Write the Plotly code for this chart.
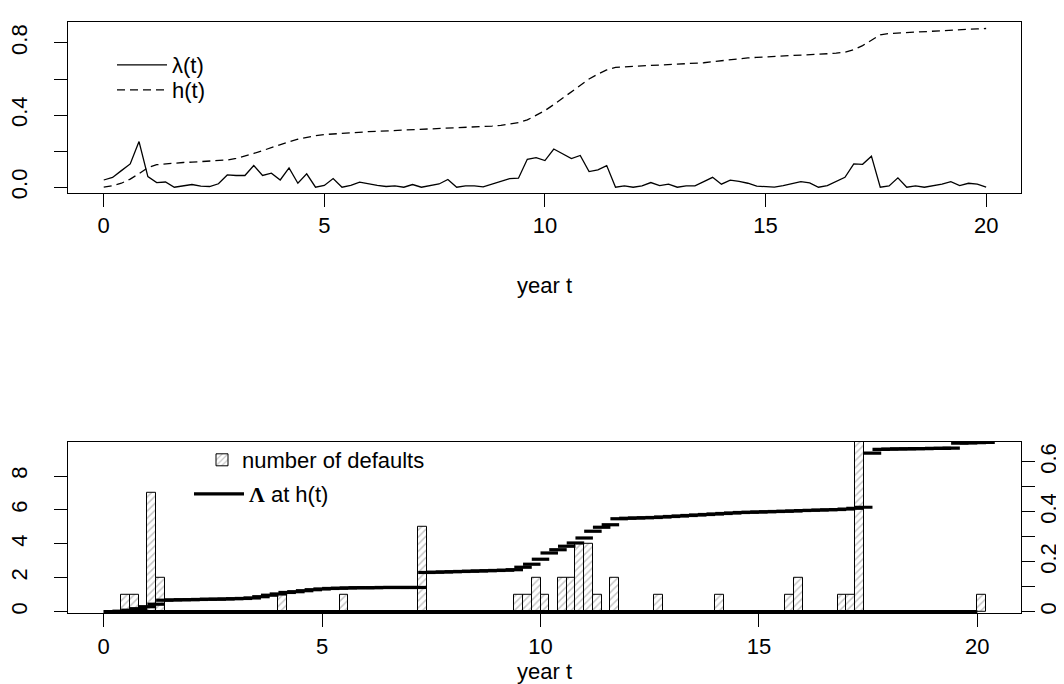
import plotly.graph_objects as go

# ---------------- data ----------------
t_grid = [round(0.2 * i, 1) for i in range(101)]  # years 0..20 step 0.2

lambda_t = [
    0.040, 0.054, 0.092, 0.129, 0.253, 0.059, 0.026, 0.029, 0.000, 0.008,
    0.015, 0.006, 0.004, 0.019, 0.068, 0.065, 0.065, 0.120, 0.065, 0.078,
    0.040, 0.107, 0.022, 0.074, 0.000, 0.010, 0.048, 0.000, 0.010, 0.028,
    0.017, 0.010, 0.004, 0.007, 0.000, 0.015, 0.000, 0.007, 0.018, 0.043,
    0.000, 0.007, 0.007, 0.002, 0.018, 0.033, 0.048, 0.050, 0.155, 0.164,
    0.148, 0.212, 0.185, 0.159, 0.176, 0.087, 0.096, 0.120, 0.000, 0.007,
    0.000, 0.007, 0.026, 0.009, 0.017, 0.000, 0.007, 0.007, 0.031, 0.055,
    0.017, 0.039, 0.033, 0.022, 0.006, 0.004, 0.000, 0.009, 0.020, 0.031,
    0.024, 0.000, 0.009, 0.031, 0.055, 0.129, 0.127, 0.172, 0.000, 0.007,
    0.052, 0.000, 0.007, 0.000, 0.007, 0.017, 0.031, 0.009, 0.022, 0.017,
    0.000,
]

h_t = [
    0.000, 0.008, 0.022, 0.045, 0.075, 0.108, 0.125, 0.130, 0.134, 0.137,
    0.139, 0.141, 0.143, 0.146, 0.151, 0.160, 0.172, 0.187, 0.203, 0.220,
    0.236, 0.252, 0.266, 0.278, 0.286, 0.292, 0.296, 0.299, 0.302, 0.305,
    0.308, 0.310, 0.312, 0.314, 0.316, 0.318, 0.320, 0.322, 0.324, 0.327,
    0.330, 0.332, 0.334, 0.336, 0.339, 0.343, 0.349, 0.358, 0.373, 0.397,
    0.425, 0.458, 0.494, 0.532, 0.568, 0.600, 0.627, 0.650, 0.664, 0.668,
    0.671, 0.673, 0.675, 0.677, 0.679, 0.681, 0.683, 0.686, 0.690, 0.696,
    0.702, 0.708, 0.713, 0.717, 0.720, 0.722, 0.724, 0.726, 0.728, 0.731,
    0.734, 0.737, 0.740, 0.743, 0.749, 0.762, 0.785, 0.815, 0.845, 0.852,
    0.855, 0.857, 0.859, 0.861, 0.863, 0.866, 0.869, 0.872, 0.875, 0.878,
    0.880,
]

# number of defaults per 0.2-year bin (bin start, count)
default_bin_start = [0.4, 0.6, 1.0, 1.2, 4.0, 5.4, 7.2, 9.4, 9.6, 9.8, 10.0,
                     10.4, 10.6, 10.8, 11.0, 11.2, 11.6, 12.6, 14.0, 15.6,
                     15.8, 16.8, 17.0, 17.2, 20.0]
default_counts = [1, 1, 7, 2, 1, 1, 5, 1, 1, 2, 1,
                  2, 2, 4, 4, 1, 2, 1, 1, 1,
                  2, 1, 1, 10, 1]
bin_width = 0.2

# Lambda evaluated at h(t), one level per grid time
Lambda_h = [
    0.000, 0.002, 0.006, 0.012, 0.020, 0.030, 0.046, 0.047, 0.048, 0.048,
    0.049, 0.050, 0.050, 0.051, 0.052, 0.053, 0.055, 0.060, 0.066, 0.071,
    0.077, 0.080, 0.084, 0.088, 0.091, 0.093, 0.094, 0.095, 0.096, 0.096,
    0.096, 0.097, 0.097, 0.097, 0.097, 0.097, 0.157, 0.158, 0.159, 0.160,
    0.161, 0.162, 0.163, 0.164, 0.165, 0.166, 0.168, 0.178, 0.190, 0.210,
    0.235, 0.248, 0.262, 0.275, 0.295, 0.322, 0.338, 0.348, 0.372, 0.374,
    0.375, 0.376, 0.377, 0.379, 0.381, 0.383, 0.385, 0.387, 0.389, 0.391,
    0.393, 0.395, 0.397, 0.398, 0.399, 0.400, 0.401, 0.402, 0.403, 0.405,
    0.406, 0.407, 0.408, 0.409, 0.411, 0.414, 0.418, 0.635, 0.650, 0.651,
    0.652, 0.652, 0.653, 0.653, 0.654, 0.654, 0.655, 0.675, 0.676, 0.677,
    0.678,
]
segment_span = 0.4  # each Lambda level is drawn over two bins

x_ticks = [0, 5, 10, 15, 20]
top_y_ticks = [0.0, 0.2, 0.4, 0.6, 0.8]
top_y_labels = ["0.0", "", "0.4", "", "0.8"]
left_y_ticks = [0, 2, 4, 6, 8]
right_y_ticks = [0.0, 0.1, 0.2, 0.3, 0.4, 0.5, 0.6]
right_y_labels = ["0", "", "0.2", "", "0.4", "", "0.6"]

# ---------------- figure ----------------
FONT = "Liberation Sans, Arial, sans-serif"
FS = 22
LW = 1.3

fig = go.Figure()

# top panel
fig.add_trace(go.Scatter(x=t_grid, y=lambda_t, mode="lines", name="λ(t)",
                         line=dict(color="black", width=LW),
                         xaxis="x", yaxis="y", legend="legend"))
fig.add_trace(go.Scatter(x=t_grid, y=h_t, mode="lines", name="h(t)",
                         line=dict(color="black", width=LW, dash="8px,5px"),
                         xaxis="x", yaxis="y", legend="legend2"))

# bottom panel: bars
bar_centers = [s + bin_width / 2 for s in default_bin_start]
fig.add_trace(go.Bar(x=bar_centers, y=default_counts, width=bin_width,
                     name="number of defaults",
                     marker=dict(color="white",
                                 line=dict(color="black", width=1),
                                 pattern=dict(shape="/", fgcolor="#8c8c8c",
                                              bgcolor="white", size=5,
                                              solidity=0.3)),
                     xaxis="x2", yaxis="y2", legend="legend3"))

# Lambda segments
seg_x, seg_y = [], []
for t, L in zip(t_grid, Lambda_h):
    seg_x += [t, t + segment_span, None]
    seg_y += [L, L, None]
fig.add_trace(go.Scatter(x=seg_x, y=seg_y, mode="lines",
                         name="<span style='font-family:Liberation Serif'><b>Λ</b></span> at h(t)",
                         line=dict(color="black", width=3.2),
                         connectgaps=False,
                         xaxis="x2", yaxis="y3", legend="legend4"))
# zero baseline of Lambda
fig.add_trace(go.Scatter(x=[t_grid[0], t_grid[-1]], y=[0, 0], mode="lines",
                         line=dict(color="black", width=3.2),
                         showlegend=False, hoverinfo="skip",
                         xaxis="x2", yaxis="y3"))

axis_common = dict(showline=True, linecolor="black", linewidth=LW,
                   mirror=True, ticks="outside", ticklen=13, tickwidth=LW,
                   tickcolor="black", showgrid=False, zeroline=False,
                   automargin=False,
                   tickfont=dict(family=FONT, size=FS, color="black"))


def one_legend(x_px, y_px, item_w):
    # position given in figure pixels, converted to paper coords
    return dict(x=(x_px - 60) / 953.0, y=(605 - y_px) / 591.0,
                xanchor="left", yanchor="middle",
                bgcolor="rgba(0,0,0,0)", borderwidth=0,
                font=dict(family=FONT, size=FS, color="black"),
                itemwidth=item_w, tracegroupgap=0)


fig.update_layout(
    width=1064, height=684,
    margin=dict(l=60, r=51, t=14, b=79),
    paper_bgcolor="white", plot_bgcolor="white",
    font=dict(family=FONT, size=FS, color="black"),
    bargap=0,
    xaxis=dict(domain=[0, 1], anchor="y", range=[-0.81, 20.79],
               tickvals=x_ticks,
               title=dict(text="year t", font=dict(size=FS), standoff=40),
               **axis_common),
    yaxis=dict(domain=[0.7108, 1], anchor="x", range=[-0.0316, 0.916],
               tickvals=top_y_ticks, ticktext=top_y_labels, tickangle=-90,
               ticklabelstandoff=18, **axis_common),
    xaxis2=dict(domain=[0, 1], anchor="y2", range=[-0.817, 21.0],
                tickvals=x_ticks,
                title=dict(text="year t", font=dict(size=FS), standoff=2),
                **axis_common),
    yaxis2=dict(domain=[0, 0.2897], anchor="x2", range=[-0.077, 10.02],
                tickvals=left_y_ticks, tickangle=-90, ticklabelstandoff=18,
                **axis_common),
    yaxis3=dict(overlaying="y2", side="right", anchor="x2",
                range=[-0.0052, 0.68], tickvals=right_y_ticks,
                ticktext=right_y_labels, tickangle=-90,
                ticklabelstandoff=-6, **axis_common),
    legend=one_legend(104, 57, 50),
    legend2=one_legend(104, 82, 50),
    legend3=one_legend(194, 452, 30),
    legend4=one_legend(181, 486, 50),
    showlegend=True,
)

fig.write_html("out.html")
